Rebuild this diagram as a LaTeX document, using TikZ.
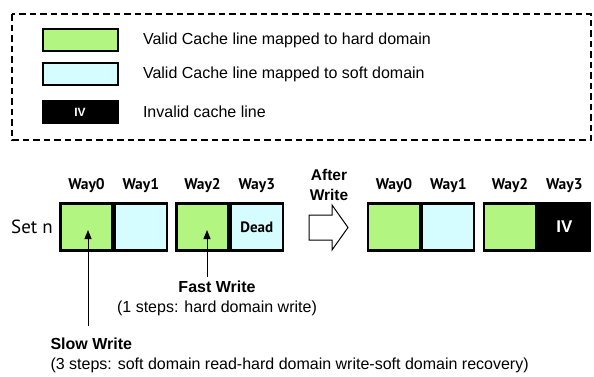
\documentclass[tikz,border=0pt]{standalone}
\usepackage{fontspec}
\setmainfont{Liberation Sans}
\newfontfamily\wayfont{PT Sans}
\usetikzlibrary{positioning,arrows.meta}
\definecolor{harddom}{RGB}{178,245,128}
\definecolor{softdom}{RGB}{213,252,255}

\begin{document}
\begin{tikzpicture}[x=1pt, y=-1pt,
    way/.style={draw, line width=2.3pt, minimum width=52pt, minimum height=47pt, inner sep=0pt},
    swatch/.style={draw, line width=2pt, minimum width=75pt, minimum height=22pt, inner sep=0pt},
    legtext/.style={font=\fontsize{16}{19}\selectfont},
    waylabel/.style={font=\wayfont\bfseries\fontsize{15.5}{17}\selectfont},
    note/.style={font=\fontsize{16}{20}\selectfont},
    arrow/.style={-{Triangle[length=9pt, width=7pt]}, line width=1pt}
]
    \useasboundingbox (0,0) rectangle (594,376);

    % legend
    \draw[dashed, line width=2.5pt, dash pattern=on 6.5pt off 4pt] (12,14) rectangle (591,140);
    \node[swatch, fill=harddom] (lghard) at (80,40) {};
    \node[swatch, fill=softdom] (lgsoft) at (80,74) {};
    \node[swatch, fill=black, text=white, font=\bfseries\fontsize{12}{14}\selectfont] (lginv) at (80,112) {IV};
    \node[legtext, right=21pt of lghard] (lghardtxt) {Valid Cache line mapped to hard domain};
    \node[legtext, right=21pt of lgsoft] (lgsofttxt) {Valid Cache line mapped to soft domain};
    \node[legtext, right=21pt of lginv] (lginvtxt) {Invalid cache line};

    % before write
    \node[way, fill=harddom] (w0) at (86.5,227) {};
    \node[way, fill=softdom, right=0pt of w0] (w1) {};
    \node[way, fill=harddom] (w2) at (202.5,227) {};
    \node[way, fill=softdom, right=0pt of w2, font=\wayfont\bfseries\fontsize{15}{17}\selectfont] (w3) {Dead};
    \node[left=3pt of w0, font=\wayfont\fontsize{19}{22}\selectfont] (setn) {Set n};
    \foreach \w/\t in {w0/Way0, w1/Way1, w2/Way2, w3/Way3}
        \node[waylabel, above=6pt of \w] (\w lbl) {\t};

    % after write
    \node[font=\bfseries\fontsize{15.5}{20}\selectfont, align=center] (after) at (329,185) {After\\Write};
    \draw[line width=1pt, fill=white] (309,215) -- (332,215) -- (332,205) -- (348,227.5)
        -- (332,250) -- (332,240) -- (309,240) -- cycle;
    \node[way, fill=harddom] (a0) at (394,227) {};
    \node[way, fill=softdom, right=0pt of a0] (a1) {};
    \node[way, fill=harddom] (a2) at (510,227) {};
    \node[way, fill=black, text=white, right=0pt of a2, font=\bfseries\fontsize{17}{19}\selectfont] (a3) {IV};
    \foreach \w/\t in {a0/Way0, a1/Way1, a2/Way2, a3/Way3}
        \node[waylabel, above=6pt of \w] (\w lbl) {\t};

    % write notes
    \node[note, align=center] (fast) at (217,298) {\textbf{Fast Write}\\(1 steps: hard domain write)};
    \node[note, align=left, anchor=west] (slow) at (47,355) {\textbf{Slow Write}\\(3 steps: soft domain read-hard domain write-soft domain recovery)};
    \draw[arrow] ([xshift=4.5pt]w2.center |- fast.north) -- ([xshift=4.5pt, yshift=-3pt]w2.center);
    \draw[arrow] ([xshift=1.5pt, yshift=8pt]w0.center |- slow.north) -- ([xshift=1.5pt, yshift=-3pt]w0.center);
\end{tikzpicture}
\end{document}
